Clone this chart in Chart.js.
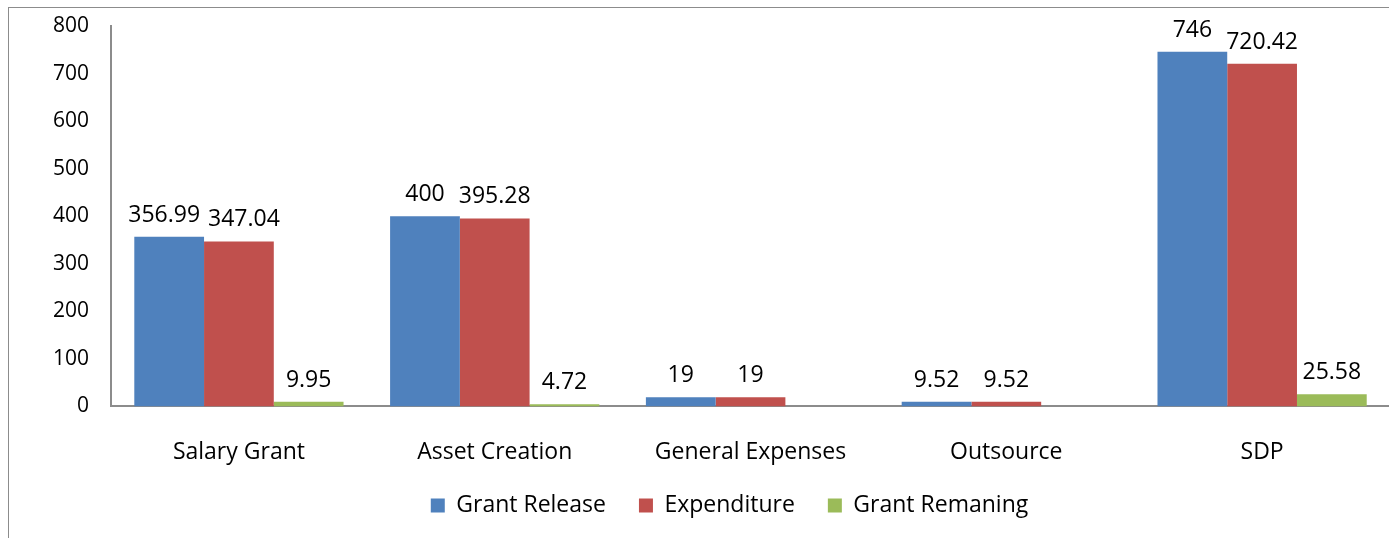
<!DOCTYPE html>
<html>
<head>
<meta charset="utf-8">
<script src="https://cdn.jsdelivr.net/npm/chart.js@4.4.0/dist/chart.umd.min.js"></script>
<style>
  body { margin: 0; background: #fff; }
  #frame {
    position: absolute; left: 8px; top: 7px; width: 1381px; height: 531px;
    border-left: 1px solid #8c8c8c; border-top: 1px solid #8c8c8c;
  }
</style>
</head>
<body>
<div id="frame"><canvas id="grantChart"></canvas></div>
<script>
var categories = ['Salary Grant', 'Asset Creation', 'General Expenses', 'Outsource', 'SDP'];
var grantRelease = [356.99, 400, 19, 9.52, 746];
var expenditure = [347.04, 395.28, 19, 9.52, 720.42];
var grantRemaning = [9.95, 4.72, 0, 0, 25.58];
var yTicks = [0, 100, 200, 300, 400, 500, 600, 700, 800];

var fontName = '"Open Sans", sans-serif';

// draws the value over every bar, skips the zero ones,
// and pushes neighbours apart when two labels would touch
var valueLabels = {
    id: 'valueLabels',
    afterDatasetsDraw: function (chart) {
        var ctx = chart.ctx;
        ctx.save();
        ctx.font = '23px ' + fontName;
        ctx.fillStyle = '#000';
        ctx.textAlign = 'center';
        ctx.textBaseline = 'alphabetic';
        chart.data.labels.forEach(function (cat, j) {
            var items = [];
            chart.data.datasets.forEach(function (ds, i) {
                var v = ds.data[j];
                if (!v) return;
                var bar = chart.getDatasetMeta(i).data[j];
                items.push({ text: String(v), x: bar.x, y: bar.y - 15, w: ctx.measureText(String(v)).width });
            });
            for (var k = 1; k < items.length; k++) {
                var a = items[k - 1], b = items[k];
                var gap = (b.x - b.w / 2) - (a.x + a.w / 2);
                if (gap < 8 && Math.abs(a.y - b.y) < 26) {
                    var shift = (8 - gap) / 2;
                    a.x -= shift;
                    b.x += shift;
                }
            }
            items.forEach(function (it) {
                ctx.fillText(it.text, it.x, it.y);
            });
        });
        ctx.restore();
    }
};

// legend: smaller box so the plot gets the room, items lifted back up,
// and centred a little more to the right
var legendFit = {
    id: 'legendFit',
    beforeInit: function (chart) {
        var fit = chart.legend.fit;
        chart.legend.fit = function () {
            fit.bind(chart.legend)();
            this.height -= 25;
        };
    },
    afterLayout: function (chart) {
        chart.legend.left += 38;
        chart.legend.top -= 37;
    }
};

var ctx = document.getElementById('grantChart').getContext('2d');
var grantChart = new Chart(ctx, {
    type: 'bar',
    data: {
        labels: categories,
        datasets: [
            { label: 'Grant Release', data: grantRelease, backgroundColor: '#4F81BD' },
            { label: 'Expenditure', data: expenditure, backgroundColor: '#C0504D' },
            { label: 'Grant Remaning', data: grantRemaning, backgroundColor: '#9BBB59' }
        ]
    },
    options: {
        responsive: true,
        maintainAspectRatio: false,
        animation: false,
        layout: { padding: { top: 0, left: 22, right: 0, bottom: 0 } },
        datasets: {
            bar: { categoryPercentage: 0.818, barPercentage: 1.0 }
        },
        scales: {
            x: {
                grid: { display: false, drawTicks: false },
                border: { color: '#8c8c8c', width: 2 },
                ticks: { color: '#000', font: { family: fontName, size: 23 }, padding: 32 }
            },
            y: {
                min: 0,
                max: 800,
                afterBuildTicks: function (axis) {
                    axis.ticks = yTicks.map(function (v) { return { value: v }; });
                },
                afterFit: function (axis) { axis.paddingTop = 18; },
                grid: { display: false, drawTicks: false },
                border: { color: '#8c8c8c', width: 2 },
                ticks: { color: '#000', font: { family: fontName, size: 21 }, padding: 22 }
            }
        },
        plugins: {
            legend: {
                position: 'bottom',
                labels: {
                    color: '#000',
                    font: { family: fontName, size: 23 },
                    boxWidth: 14,
                    boxHeight: 14,
                    padding: 33
                }
            },
            tooltip: { enabled: false }
        }
    },
    plugins: [valueLabels, legendFit]
});
</script>
</body>
</html>
